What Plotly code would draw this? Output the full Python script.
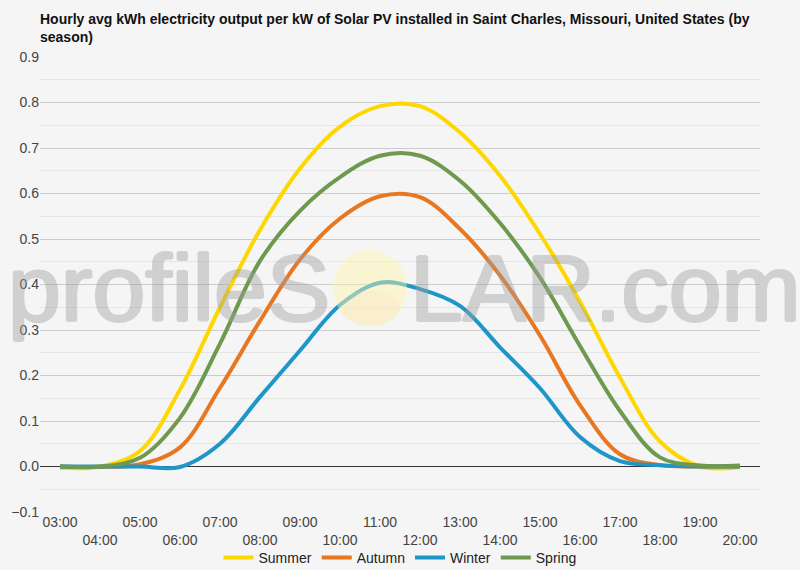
import plotly.graph_objects as go

hours = ["03:00", "04:00", "05:00", "06:00", "07:00", "08:00", "09:00", "10:00", "11:00",
         "12:00", "13:00", "14:00", "15:00", "16:00", "17:00", "18:00", "19:00", "20:00"]
summer = [-0.003, 0.0, 0.034, 0.169, 0.35, 0.52, 0.655, 0.747, 0.792,
          0.792, 0.734, 0.639, 0.511, 0.362, 0.195, 0.055, 0.0, -0.001]
autumn = [0.0, -0.001, 0.005, 0.042, 0.173, 0.32, 0.455, 0.545, 0.594,
          0.592, 0.522, 0.42, 0.288, 0.135, 0.027, 0.003, 0.0, 0.0]
winter = [0.0, 0.0, 0.0, -0.001, 0.05, 0.153, 0.255, 0.355, 0.404,
          0.39, 0.353, 0.262, 0.172, 0.065, 0.012, 0.003, 0.0, 0.0]
spring = [0.0, 0.0, 0.019, 0.107, 0.27, 0.452, 0.562, 0.636, 0.683,
          0.683, 0.628, 0.535, 0.415, 0.265, 0.122, 0.02, 0.002, 0.002]

series = [("Summer", summer, "#FFD700"), ("Autumn", autumn, "#E87722"),
          ("Winter", winter, "#1E96C8"), ("Spring", spring, "#6D9A4F")]

tick_text = [h if i % 2 == 0 else "<br>" + h for i, h in enumerate(hours)]

fig = go.Figure()
for name, vals, color in series:
    fig.add_trace(go.Scatter(x=hours, y=vals, name=name, mode="lines",
                             line=dict(color=color, width=4, shape="spline", smoothing=1.0)))

W, H = 800, 570
L, R, T, B = 40, 40, 57, 58
pw, ph = W - L - R, H - T - B

def px(x):
    return (x - L) / pw

def py(y):
    return (H - B - y) / ph

fig.update_layout(
    width=W, height=H,
    margin=dict(l=L, r=R, t=T, b=B, autoexpand=False),
    paper_bgcolor="#f5f5f5", plot_bgcolor="#f5f5f5",
    font=dict(family="Liberation Sans, Arial, sans-serif", size=14, color="#444"),
    title=dict(text="Hourly avg kWh electricity output per kW of Solar PV installed in Saint Charles, Missouri, United States (by<br>season)",
               x=40 / W, xanchor="left", xref="container",
               y=1 - 24 / H, yanchor="middle", yref="container",
               font=dict(family="Liberation Sans, Arial, sans-serif", size=14, color="#111", weight="bold")),
    xaxis=dict(type="category", range=[-0.5, 17.5], tickmode="array", tickvals=hours,
               ticktext=tick_text, showgrid=False, zeroline=False, showline=False,
               ticks="", automargin=False, tickfont=dict(size=14, color="#444")),
    yaxis=dict(range=[-0.1, 0.9], dtick=0.1, tickformat=".1f", showgrid=True,
               gridcolor="#cccccc", gridwidth=1, zeroline=True, zerolinecolor="#333",
               zerolinewidth=1, ticks="", automargin=False, tickfont=dict(size=14, color="#444"),
               minor=dict(dtick=0.05, showgrid=True, gridcolor="#e6e6e6", gridwidth=1)),
    legend=dict(orientation="h", x=0.5, xanchor="center", xref="container",
                y=1 - 558 / H, yanchor="middle", yref="container",
                font=dict(size=14, color="#222"), bgcolor="rgba(0,0,0,0)",
                itemwidth=30, tracegroupgap=0),
    showlegend=True,
)

# watermark
wm_c = "#a0a0a0"
wm_shadow = f"1.5px 0 0 {wm_c}, -1.5px 0 0 {wm_c}, 0 1px 0 {wm_c}, 0 -1px 0 {wm_c}"
wm_font = dict(family="Liberation Sans, Arial, sans-serif", size=95, color=wm_c, shadow=wm_shadow)
fig.add_annotation(text="profileS", xref="paper", yref="paper", x=px(332), y=py(288),
                   xanchor="right", yanchor="middle", showarrow=False, opacity=0.43,
                   font=wm_font)
fig.add_annotation(text="LAR.com", xref="paper", yref="paper", x=px(408), y=py(288),
                   xanchor="left", yanchor="middle", showarrow=False, opacity=0.43,
                   font=wm_font)
fig.add_shape(type="circle", xref="paper", yref="paper",
              x0=px(333), x1=px(407), y0=py(326), y1=py(250),
              fillcolor="rgba(255,246,170,0.45)", line=dict(width=0), layer="above")
fig.add_shape(type="circle", xref="paper", yref="paper",
              x0=px(340), x1=px(400), y0=py(326), y1=py(290),
              fillcolor="rgba(255,215,170,0.18)", line=dict(width=0), layer="above")

fig.write_html("out.html")
